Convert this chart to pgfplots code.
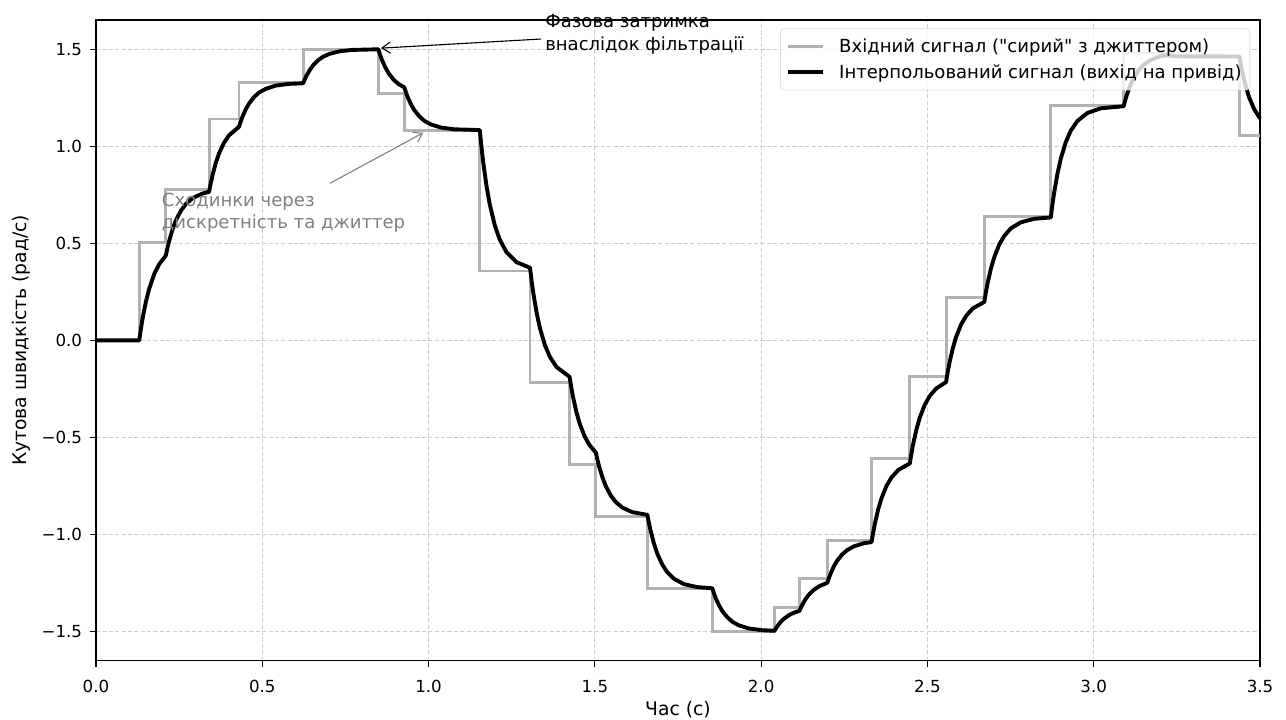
\documentclass[border=0pt]{standalone}
\usepackage{pgfplots}
\pgfplotsset{compat=1.18}
\usepackage{fontspec}
\setmainfont{DejaVu Sans}[Ligatures=TeXOff]
\usetikzlibrary{arrows.meta}
\definecolor{stepgray}{RGB}{178,178,178}
\definecolor{gridgray}{RGB}{205,205,205}
\definecolor{annogray}{RGB}{128,128,128}
\definecolor{legframe}{RGB}{210,210,210}
\begin{document}
\begin{tikzpicture}
\begin{axis}[
  scale only axis,
  width=838.08pt, height=461.3pt,
  xmin=0, xmax=3.5, ymin=-1.65, ymax=1.65,
  xtick={0,0.5,1,1.5,2,2.5,3,3.5},
  xticklabels={0.0,0.5,1.0,1.5,2.0,2.5,3.0,3.5},
  ytick={-1.5,-1,-0.5,0,0.5,1,1.5},
  yticklabels={−1.5,−1.0,−0.5,0.0,0.5,1.0,1.5},
  tick label style={font=\fontsize{12}{14}\selectfont},
  xticklabel style={yshift=-6pt},
  yticklabel style={xshift=-2.2pt},
  tick align=outside, xtick pos=bottom, ytick pos=left,
  major tick length=4.3pt,
  every tick/.style={black, line width=0.8pt},
  grid=major,
  major grid style={gridgray, dash pattern=on 3pt off 1.6pt, line width=0.6pt},
  axis line style={line width=0.8pt},
  xlabel={Час (с)}, ylabel={Кутова швидкість (рад/с)},
  label style={font=\fontsize{13.5}{16}\selectfont},
  xlabel style={at={(axis description cs:0.5,-0.0863)}, anchor=base},
  ylabel style={at={(axis description cs:-0.0593,0.5)}, anchor=base},
  clip=false,
  legend cell align=left,
  legend style={at={(1,1)}, anchor=north east, xshift=-7pt, yshift=-6pt,
    font=\fontsize{13}{15}\selectfont, fill=white, fill opacity=0.8,
    text opacity=1, draw=legframe, rounded corners=3pt,
    inner xsep=4pt, inner ysep=5pt, row sep=3.5pt, /tikz/column sep=8.5pt},
  legend image code/.code={\draw[#1] (0pt,0pt) -- (25pt,0pt);},
]
\addplot[const plot, stepgray, line width=2.1pt] coordinates {
(0,0) (0.130,0.505) (0.210,0.778) (0.340,1.140) (0.430,1.326) (0.623,1.500)
(0.849,1.270) (0.927,1.082) (1.154,0.357) (1.305,-0.218) (1.424,-0.641)
(1.503,-0.906) (1.658,-1.280) (1.853,-1.498) (2.040,-1.375) (2.115,-1.229)
(2.199,-1.031) (2.332,-0.610) (2.447,-0.186) (2.556,0.223) (2.671,0.636)
(2.871,1.208) (3.090,1.480) (3.220,1.462) (3.438,1.057) (3.5,1.057)
};
\addlegendentry{Вхідний сигнал ("сирий" з джиттером)}
\addplot[black, line width=2.8pt, line join=round] coordinates {
(0,0) (0.130,0)
(0.135,0.059) (0.14,0.112) (0.15,0.199) (0.16,0.266) (0.175,0.341) (0.19,0.392) (0.21,0.437)
(0.215,0.477) (0.22,0.512) (0.23,0.571) (0.24,0.617) (0.255,0.667) (0.27,0.702) (0.29,0.732) (0.32,0.756) (0.34,0.765)
(0.345,0.809) (0.35,0.848) (0.36,0.913) (0.37,0.963) (0.385,1.018) (0.40,1.056) (0.43,1.100)
(0.435,1.127) (0.44,1.150) (0.45,1.189) (0.46,1.219) (0.475,1.253) (0.49,1.276) (0.51,1.295) (0.54,1.312) (0.58,1.321) (0.623,1.324)
(0.628,1.345) (0.633,1.363) (0.643,1.393) (0.653,1.417) (0.668,1.443) (0.683,1.461) (0.703,1.476) (0.733,1.489) (0.773,1.496) (0.849,1.499)
(0.854,1.472) (0.859,1.448) (0.869,1.409) (0.879,1.378) (0.894,1.344) (0.909,1.321) (0.927,1.303)
(0.932,1.277) (0.937,1.254) (0.947,1.216) (0.957,1.186) (0.972,1.154) (0.987,1.131) (1.007,1.112) (1.037,1.096) (1.077,1.087) (1.154,1.083)
(1.159,0.998) (1.164,0.922) (1.174,0.797) (1.184,0.700) (1.199,0.593) (1.214,0.519) (1.234,0.455) (1.264,0.403) (1.305,0.374)
(1.310,0.304) (1.315,0.243) (1.325,0.141) (1.335,0.062) (1.350,-0.026) (1.365,-0.086) (1.385,-0.138) (1.424,-0.188)
(1.429,-0.241) (1.434,-0.288) (1.444,-0.366) (1.454,-0.427) (1.469,-0.494) (1.484,-0.540) (1.503,-0.578)
(1.508,-0.617) (1.513,-0.651) (1.523,-0.707) (1.533,-0.751) (1.548,-0.800) (1.563,-0.833) (1.583,-0.862) (1.613,-0.885) (1.658,-0.899)
(1.663,-0.944) (1.668,-0.983) (1.678,-1.049) (1.688,-1.100) (1.703,-1.156) (1.718,-1.195) (1.738,-1.228) (1.768,-1.256) (1.808,-1.271) (1.853,-1.277)
(1.858,-1.303) (1.863,-1.326) (1.873,-1.364) (1.883,-1.394) (1.898,-1.426) (1.913,-1.449) (1.933,-1.468) (1.963,-1.484) (2.003,-1.493) (2.040,-1.496)
(2.045,-1.482) (2.050,-1.469) (2.060,-1.448) (2.070,-1.432) (2.085,-1.414) (2.100,-1.402) (2.115,-1.394)
(2.120,-1.375) (2.125,-1.358) (2.135,-1.329) (2.145,-1.307) (2.160,-1.283) (2.175,-1.266) (2.199,-1.249)
(2.204,-1.223) (2.209,-1.201) (2.219,-1.163) (2.229,-1.134) (2.244,-1.102) (2.259,-1.080) (2.279,-1.061) (2.309,-1.045) (2.332,-1.039)
(2.337,-0.989) (2.342,-0.944) (2.352,-0.870) (2.362,-0.813) (2.377,-0.749) (2.392,-0.706) (2.412,-0.668) (2.447,-0.634)
(2.452,-0.581) (2.457,-0.535) (2.467,-0.458) (2.477,-0.398) (2.492,-0.332) (2.507,-0.286) (2.527,-0.247) (2.556,-0.215)
(2.561,-0.164) (2.566,-0.118) (2.576,-0.043) (2.586,0.016) (2.601,0.081) (2.616,0.125) (2.636,0.164) (2.671,0.198)
(2.676,0.250) (2.681,0.295) (2.691,0.370) (2.701,0.429) (2.716,0.494) (2.731,0.538) (2.751,0.577) (2.781,0.608) (2.821,0.626) (2.871,0.633)
(2.876,0.701) (2.881,0.760) (2.891,0.859) (2.901,0.936) (2.916,1.021) (2.931,1.080) (2.951,1.130) (2.981,1.171) (3.021,1.195) (3.090,1.206)
(3.095,1.238) (3.100,1.267) (3.110,1.314) (3.120,1.351) (3.135,1.391) (3.150,1.419) (3.170,1.443) (3.200,1.463) (3.220,1.469)
(3.250,1.463) (3.438,1.462)
(3.443,1.414) (3.448,1.372) (3.458,1.303) (3.468,1.248) (3.483,1.189) (3.5,1.143)
};
\addlegendentry{Інтерпольований сигнал (вихід на привід)}
\node[anchor=base west, inner sep=0pt, font=\fontsize{13}{15}\selectfont] at (axis cs:1.350,1.612) {Фазова затримка};
\node[anchor=base west, inner sep=0pt, font=\fontsize{13}{15}\selectfont] at (axis cs:1.350,1.495) {внаслідок фільтрації};
\draw[-{Straight Barb[length=6pt,width=8pt]}, line width=0.8pt] (axis cs:1.338,1.552) -- (axis cs:0.857,1.505);
\node[anchor=base west, inner sep=0pt, text=annogray, font=\fontsize{13}{15}\selectfont] at (axis cs:0.1975,0.687) {Сходинки через};
\node[anchor=base west, inner sep=0pt, text=annogray, font=\fontsize{13}{15}\selectfont] at (axis cs:0.1975,0.576) {дискретність та джиттер};
\draw[annogray, -{Straight Barb[length=6pt,width=8pt]}, line width=0.8pt] (axis cs:0.7036,0.809) -- (axis cs:0.984,1.069);
\end{axis}
\pgfresetboundingbox
\useasboundingbox (-69.12pt,-42.70pt) rectangle (856.80pt,475.70pt);
\end{tikzpicture}
\end{document}
